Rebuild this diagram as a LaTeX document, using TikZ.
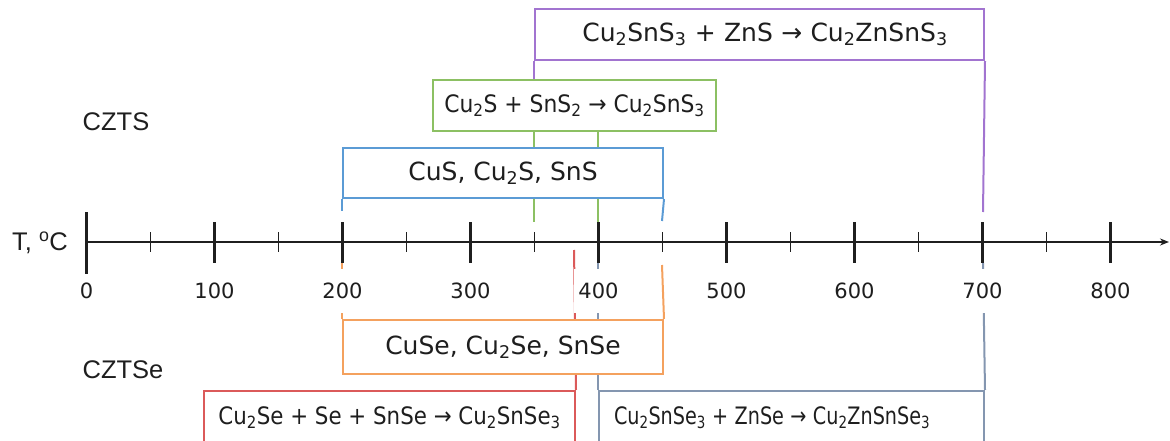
\documentclass[tikz,border=0pt]{standalone}
\usepackage{fontspec}
\setmainfont{DejaVu Sans}
\newfontfamily\arialf{Liberation Sans}
\usetikzlibrary{arrows.meta}
\pgfdeclarelayer{bg}
\pgfsetlayers{bg,main}
\definecolor{cpurple}{HTML}{A274D0}
\definecolor{cgreen}{HTML}{8CC063}
\definecolor{cblue}{HTML}{5B9BD5}
\definecolor{corange}{HTML}{F4A15E}
\definecolor{cred}{HTML}{DB5A5A}
\definecolor{cgray}{HTML}{8496B0}
\definecolor{ctext}{HTML}{1E1E1E}
\newcommand{\sub}[1]{\textsubscript{#1}}
\begin{document}
\begin{tikzpicture}[x=1pt,y=-1pt,
  every node/.style={text=ctext},
  big/.style={font=\fontsize{25}{30}\selectfont},
  mid/.style={font=\fontsize{24}{28}\selectfont},
  box/.style={draw, line width=2pt, fill=white, inner sep=0pt, anchor=north west},
  conn/.style={line width=2pt},
  tlab/.style={font=\fontsize{21}{25}\selectfont, fill=white, inner xsep=4pt, inner ysep=0pt, minimum height=44pt},
  side/.style={font=\arialf\fontsize{25.5}{30}\selectfont},
  axisline/.style={line width=2pt, black!88},
  major/.style={line width=2.1pt, black!88},
  minor/.style={line width=1.5pt, black!88}]
\useasboundingbox (0,0) rectangle (1170,441);

% axis coordinates
\foreach \t in {0,50,...,800}{
  \coordinate (t\t) at ({86.5+1.28*\t},242);
}
\coordinate (pe700) at (983,212);
\coordinate (ge350) at (534,222);
\coordinate (ge400) at (598,222);
\coordinate (be200) at (342,211);
\coordinate (be450) at (662,221);
\coordinate (oe200) at (342,263);
\coordinate (oe450) at (662,265);
\coordinate (re380) at (574,250);
\coordinate (ge2400) at (598,263);
\coordinate (ge2700) at (983,263);

% boxes
\path (534,8) node[box, big, draw=cpurple, minimum width=449pt, minimum height=51pt, text width=449pt, align=center] (p) {\hspace*{11pt}Cu\sub{2}SnS\sub{3} + ZnS → Cu\sub{2}ZnSnS\sub{3}};
\path (432,79) node[box, mid, draw=cgreen, minimum width=283pt, minimum height=51pt] (g) {\scalebox{0.91}[1]{Cu\sub{2}S + SnS\sub{2} → Cu\sub{2}SnS\sub{3}}};
\path (342,147) node[box, big, draw=cblue, minimum width=320pt, minimum height=50pt] (b) {CuS, Cu\sub{2}S, SnS};
\path (342,319) node[box, big, draw=corange, minimum width=320pt, minimum height=54pt] (o) {CuSe, Cu\sub{2}Se, SnSe};
\path (203,390) node[box, mid, draw=cred, minimum width=371pt, minimum height=53pt] (r) {\scalebox{0.89}[1]{Cu\sub{2}Se + Se + SnSe → Cu\sub{2}SnSe\sub{3}}};
\path (598,390) node[box, mid, draw=cgray, minimum width=385pt, minimum height=53pt, text width=355pt, align=left, inner xsep=15pt] (gr) {\scalebox{0.80}[1]{Cu\sub{2}SnSe\sub{3} + ZnSe → Cu\sub{2}ZnSnSe\sub{3}}};

% connectors (behind boxes and labels)
\begin{pgfonlayer}{bg}
\draw[conn, cpurple] (p.south west) -- (p.south west |- g.north);
\draw[conn, cpurple] (p.south east) -- (pe700);
\draw[conn, cgreen] (g.south -| ge350) -- (ge350);
\draw[conn, cgreen] (g.south -| ge400) -- (ge400);
\draw[conn, cblue] (b.south west) -- (be200);
\draw[conn, cblue] (b.south east) -- (be450);
\draw[conn, corange] (o.north west) -- (oe200);
\draw[conn, corange] (o.north east) -- (oe450);
\draw[conn, cred] (r.north east) -- (re380);
\draw[conn, cgray] (gr.north west) -- (ge2400);
\draw[conn, cgray] (gr.north east) -- (ge2700);
\end{pgfonlayer}

% tick labels
\foreach \t in {0,100,...,800}{
  \node[tlab] (l\t) at ([yshift=-49pt]t\t) {\t};
}

% axis
\coordinate (aend) at (1169,242);
\draw[axisline, -{Stealth[length=9pt,width=7pt]}] (t0) -- (aend);
\draw[major] ([yshift=30pt]t0) -- ([yshift=-32pt]t0);
\foreach \t in {100,200,...,800}{
  \draw[major] ([yshift=20pt]t\t) -- ([yshift=-21pt]t\t);
}
\foreach \t in {50,150,...,750}{
  \draw[minor] ([yshift=10pt]t\t) -- ([yshift=-10pt]t\t);
}

% side labels
\node[side] (tl) at (40,243) {T, \textsuperscript{o}C};
\node[side] (czts) at (116,122) {CZTS};
\node[side] (cztse) at (123,370) {CZTSe};
\end{tikzpicture}
\end{document}
